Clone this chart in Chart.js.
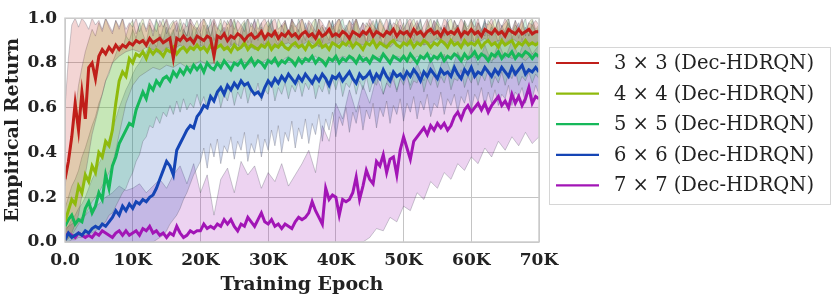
<!DOCTYPE html>
<html>
<head>
<meta charset="utf-8">
<script src="https://cdn.jsdelivr.net/npm/chart.js@4.4.1/dist/chart.umd.min.js"></script>
<style>
  html, body { margin: 0; padding: 0; background: #fff; }
  #wrap { width: 831px; height: 298px; }
</style>
</head>
<body>
<div id="wrap"><canvas id="myChart" width="831" height="298"></canvas></div>
<script>
// every array covers epochs 0..70K evenly (500 or 1000 epochs apart)
var maxEpoch = 70000;

var names = ['3 × 3 (Dec-HDRQN)', '4 × 4 (Dec-HDRQN)', '5 × 5 (Dec-HDRQN)', '6 × 6 (Dec-HDRQN)', '7 × 7 (Dec-HDRQN)'];
var colors = ['#c01f1a', '#8fba0c', '#16b85a', '#1545b5', '#a215b6'];

var mean3 = [
  0.28, 0.36, 0.47, 0.62, 0.50, 0.67, 0.55, 0.78, 0.80, 0.73,
  0.83, 0.86, 0.84, 0.87, 0.85, 0.88, 0.86, 0.88, 0.87, 0.89,
  0.88, 0.90, 0.89, 0.90, 0.88, 0.91, 0.89, 0.90, 0.91, 0.89,
  0.90, 0.91, 0.82, 0.91, 0.90, 0.92, 0.90, 0.91, 0.89, 0.92,
  0.91, 0.90, 0.92, 0.91, 0.83, 0.92, 0.91, 0.93, 0.90, 0.92,
  0.91, 0.93, 0.92, 0.90, 0.92, 0.93, 0.91, 0.92, 0.94, 0.91,
  0.93, 0.92, 0.94, 0.91, 0.93, 0.92, 0.94, 0.92, 0.93, 0.91,
  0.93, 0.94, 0.92, 0.93, 0.91, 0.94, 0.92, 0.93, 0.95, 0.92,
  0.93, 0.92, 0.94, 0.93, 0.91, 0.94, 0.93, 0.92, 0.94, 0.93,
  0.95, 0.92, 0.94, 0.93, 0.92, 0.94, 0.93, 0.95, 0.92, 0.94,
  0.93, 0.94, 0.92, 0.95, 0.93, 0.94, 0.92, 0.94, 0.95, 0.93,
  0.94, 0.92, 0.95, 0.93, 0.94, 0.93, 0.95, 0.92, 0.94, 0.93,
  0.95, 0.93, 0.94, 0.92, 0.95, 0.94, 0.93, 0.95, 0.93, 0.94,
  0.92, 0.95, 0.94, 0.93, 0.95, 0.93, 0.94, 0.95, 0.93, 0.94,
  0.94
];
var mean4 = [
  0.09, 0.14, 0.19, 0.17, 0.25, 0.22, 0.30, 0.27, 0.34, 0.31,
  0.40, 0.38, 0.45, 0.43, 0.50, 0.62, 0.72, 0.76, 0.74, 0.82,
  0.80, 0.84, 0.83, 0.85, 0.82, 0.86, 0.84, 0.86, 0.85, 0.83,
  0.86, 0.85, 0.87, 0.84, 0.86, 0.87, 0.85, 0.87, 0.86, 0.88,
  0.86, 0.87, 0.85, 0.88, 0.86, 0.87, 0.88, 0.86, 0.87, 0.85,
  0.88, 0.86, 0.87, 0.89, 0.86, 0.88, 0.87, 0.86, 0.88, 0.87,
  0.89, 0.86, 0.88, 0.87, 0.89, 0.87, 0.86, 0.88, 0.89, 0.87,
  0.88, 0.86, 0.89, 0.87, 0.88, 0.90, 0.87, 0.88, 0.86, 0.89,
  0.88, 0.87, 0.89, 0.88, 0.90, 0.87, 0.89, 0.88, 0.86, 0.89,
  0.88, 0.90, 0.87, 0.89, 0.88, 0.87, 0.89, 0.90, 0.88, 0.87,
  0.89, 0.88, 0.90, 0.87, 0.89, 0.88, 0.90, 0.89, 0.87, 0.89,
  0.88, 0.90, 0.89, 0.87, 0.90, 0.88, 0.89, 0.87, 0.90, 0.88,
  0.89, 0.88, 0.90, 0.87, 0.89, 0.90, 0.88, 0.89, 0.87, 0.90,
  0.88, 0.89, 0.90, 0.87, 0.89, 0.88, 0.90, 0.88, 0.89, 0.88,
  0.89
];
var mean5 = [
  0.07, 0.10, 0.12, 0.08, 0.10, 0.09, 0.15, 0.18, 0.13, 0.16,
  0.22, 0.19, 0.30, 0.24, 0.34, 0.38, 0.44, 0.47, 0.50, 0.53,
  0.52, 0.59, 0.63, 0.67, 0.64, 0.70, 0.68, 0.72, 0.70, 0.73,
  0.74, 0.72, 0.76, 0.74, 0.77, 0.75, 0.78, 0.76, 0.79, 0.77,
  0.79, 0.76, 0.80, 0.78, 0.77, 0.80, 0.78, 0.81, 0.79, 0.77,
  0.80, 0.79, 0.81, 0.78, 0.80, 0.82, 0.79, 0.81, 0.80, 0.78,
  0.81, 0.80, 0.82, 0.79, 0.81, 0.80, 0.82, 0.81, 0.79, 0.82,
  0.80, 0.82, 0.81, 0.83, 0.80, 0.82, 0.81, 0.79, 0.82, 0.81,
  0.83, 0.80, 0.82, 0.81, 0.83, 0.82, 0.80, 0.83, 0.81, 0.82,
  0.80, 0.83, 0.82, 0.81, 0.84, 0.82, 0.80, 0.83, 0.82, 0.81,
  0.83, 0.81, 0.84, 0.82, 0.80, 0.83, 0.82, 0.84, 0.81, 0.83,
  0.82, 0.84, 0.81, 0.83, 0.82, 0.84, 0.83, 0.81, 0.84, 0.82,
  0.83, 0.85, 0.82, 0.84, 0.83, 0.81, 0.84, 0.83, 0.85, 0.82,
  0.84, 0.83, 0.85, 0.82, 0.84, 0.83, 0.85, 0.84, 0.82, 0.84,
  0.83
];
var mean6 = [
  0.01, 0.04, 0.02, 0.03, 0.04, 0.03, 0.05, 0.04, 0.06, 0.07,
  0.06, 0.08, 0.07, 0.09, 0.11, 0.14, 0.12, 0.16, 0.14, 0.17,
  0.15, 0.18, 0.17, 0.19, 0.18, 0.20, 0.21, 0.24, 0.28, 0.32,
  0.36, 0.34, 0.30, 0.41, 0.44, 0.47, 0.50, 0.52, 0.51, 0.56,
  0.58, 0.61, 0.60, 0.65, 0.63, 0.67, 0.69, 0.66, 0.70, 0.68,
  0.71, 0.69, 0.72, 0.70, 0.71, 0.68, 0.66, 0.67, 0.65, 0.69,
  0.72, 0.70, 0.73, 0.71, 0.74, 0.72, 0.75, 0.73, 0.71, 0.74,
  0.72, 0.75, 0.73, 0.71, 0.74, 0.72, 0.75, 0.73, 0.70, 0.74,
  0.73, 0.75, 0.72, 0.74, 0.76, 0.73, 0.71, 0.75, 0.73, 0.74,
  0.76, 0.72, 0.75, 0.73, 0.77, 0.74, 0.72, 0.76, 0.74, 0.75,
  0.73, 0.76, 0.74, 0.77, 0.75, 0.72, 0.76, 0.74, 0.77, 0.75,
  0.73, 0.77, 0.75, 0.76, 0.74, 0.78, 0.75, 0.73, 0.77, 0.75,
  0.78, 0.74, 0.76, 0.75, 0.78, 0.76, 0.74, 0.77, 0.75, 0.78,
  0.76, 0.74, 0.78, 0.75, 0.77, 0.79, 0.75, 0.77, 0.76, 0.78,
  0.76
];
var mean7 = [
  0.02, 0.04, 0.03, 0.02, 0.04, 0.03, 0.02, 0.03, 0.02, 0.04,
  0.03, 0.05, 0.04, 0.03, 0.02, 0.04, 0.05, 0.03, 0.05, 0.03,
  0.04, 0.05, 0.03, 0.06, 0.05, 0.07, 0.04, 0.05, 0.03, 0.04,
  0.02, 0.04, 0.03, 0.07, 0.04, 0.02, 0.03, 0.05, 0.04, 0.05,
  0.05, 0.08, 0.06, 0.07, 0.06, 0.08, 0.07, 0.10, 0.08, 0.10,
  0.07, 0.05, 0.08, 0.07, 0.11, 0.09, 0.07, 0.10, 0.13, 0.09,
  0.08, 0.10, 0.07, 0.08, 0.06, 0.08, 0.07, 0.06, 0.09, 0.11,
  0.10, 0.11, 0.13, 0.18, 0.14, 0.11, 0.08, 0.24, 0.19, 0.21,
  0.20, 0.12, 0.19, 0.18, 0.19, 0.22, 0.29, 0.19, 0.25, 0.32,
  0.28, 0.26, 0.36, 0.34, 0.39, 0.31, 0.37, 0.38, 0.30, 0.41,
  0.47, 0.42, 0.37, 0.45, 0.47, 0.49, 0.51, 0.48, 0.52, 0.50,
  0.53, 0.51, 0.53, 0.50, 0.52, 0.56, 0.58, 0.55, 0.59, 0.61,
  0.58, 0.60, 0.62, 0.59, 0.62, 0.58, 0.61, 0.63, 0.65, 0.61,
  0.63, 0.60, 0.66, 0.62, 0.65, 0.61, 0.64, 0.69, 0.62, 0.65,
  0.64
];

var low3 = [
  0.00, 0.04, 0.12, 0.30, 0.48, 0.60, 0.72, 0.80, 0.83, 0.85,
  0.86, 0.85, 0.87, 0.86, 0.84, 0.87, 0.86, 0.88, 0.86, 0.87,
  0.88, 0.86, 0.87, 0.88, 0.86, 0.89, 0.87, 0.88, 0.86, 0.88,
  0.89, 0.87, 0.88, 0.89, 0.87, 0.88, 0.90, 0.88, 0.87, 0.89,
  0.88, 0.90, 0.87, 0.89, 0.88, 0.90, 0.88, 0.89, 0.87, 0.90,
  0.89, 0.88, 0.90, 0.88, 0.89, 0.91, 0.88, 0.90, 0.89, 0.88,
  0.90, 0.89, 0.91, 0.88, 0.90, 0.89, 0.91, 0.89, 0.90, 0.88,
  0.90
];
var high3 = [
  0.60, 0.82, 0.97, 1.00, 0.96, 1.00, 0.98, 0.95, 1.00, 0.97,
  0.99, 0.95, 1.00, 0.97, 0.94, 0.99, 0.96, 1.00, 0.95, 0.98,
  0.96, 1.00, 0.94, 0.98, 0.95, 1.00, 0.97, 0.94, 0.99, 0.96,
  1.00, 0.95, 0.98, 0.99, 0.94, 0.98, 0.96, 1.00, 0.97, 0.95,
  0.98, 1.00, 0.95, 0.97, 1.00, 0.96, 0.94, 0.99, 0.97, 1.00,
  0.95, 0.99, 0.97, 0.94, 1.00, 0.96, 0.99, 0.95, 0.98, 1.00,
  0.96, 0.98, 1.00, 0.95, 0.97, 0.99, 0.94, 1.00, 0.96, 0.98,
  1.00, 0.95, 0.99, 0.97, 0.94, 1.00, 0.98, 0.95, 0.99, 0.96,
  0.98, 1.00, 0.96, 0.94, 0.99, 0.97, 1.00, 0.95, 0.98, 0.96,
  1.00, 0.97, 0.95, 0.99, 0.96, 1.00, 0.94, 0.98, 0.97, 1.00,
  0.95, 0.98, 1.00, 0.96, 0.99, 0.94, 0.97, 1.00, 0.95, 0.99,
  0.97, 0.95, 1.00, 0.98, 0.94, 0.99, 0.96, 1.00, 0.97, 0.95,
  0.99, 0.96, 1.00, 0.94, 0.98, 0.97, 1.00, 0.95, 0.99, 0.96,
  1.00, 0.97, 0.95, 0.99, 0.96, 1.00, 0.94, 0.98, 0.97, 0.99,
  0.97
];
var low4 = [
  0.00, 0.03, 0.08, 0.12, 0.18, 0.22, 0.28, 0.34, 0.48, 0.62,
  0.70, 0.74, 0.76, 0.78, 0.77, 0.79, 0.78, 0.80, 0.78, 0.79,
  0.81, 0.79, 0.80, 0.78, 0.81, 0.80, 0.82, 0.79, 0.81, 0.80,
  0.82, 0.80, 0.81, 0.83, 0.80, 0.82, 0.81, 0.83, 0.80, 0.82,
  0.81, 0.83, 0.82, 0.80, 0.83, 0.81, 0.82, 0.84, 0.81, 0.83,
  0.82, 0.80, 0.83, 0.82, 0.84, 0.81, 0.83, 0.82, 0.84, 0.81,
  0.83, 0.82, 0.84, 0.81, 0.83, 0.84, 0.82, 0.83, 0.81, 0.84,
  0.82
];
var high4 = [
  0.25, 0.35, 0.45, 0.58, 0.70, 0.78, 0.85, 0.90, 0.95, 0.92,
  0.98, 0.94, 1.00, 0.96, 0.93, 0.99, 0.95, 1.00, 0.92, 0.97,
  0.99, 0.93, 0.97, 1.00, 0.94, 0.98, 0.92, 0.99, 0.96, 1.00,
  0.93, 0.97, 0.99, 0.94, 1.00, 0.95, 0.92, 0.98, 0.96, 0.99,
  0.94, 1.00, 0.97, 0.92, 0.98, 0.95, 1.00, 0.93, 0.99, 0.96,
  1.00, 0.94, 0.97, 0.99, 0.92, 0.98, 0.95, 1.00, 0.93, 0.97,
  0.99, 0.95, 0.92, 1.00, 0.96, 0.98, 0.93, 0.99, 0.97, 0.94,
  1.00, 0.96, 0.93, 0.98, 1.00, 0.94, 0.97, 0.92, 0.99, 0.95,
  0.97, 1.00, 0.93, 0.96, 0.99, 0.94, 1.00, 0.95, 0.92, 0.98,
  0.96, 0.99, 0.94, 1.00, 0.97, 0.93, 0.98, 0.95, 1.00, 0.94,
  0.98, 0.92, 0.97, 1.00, 0.95, 0.99, 0.93, 0.96, 1.00, 0.94,
  0.99, 0.96, 0.92, 0.98, 1.00, 0.95, 0.97, 0.93, 0.99, 0.96,
  1.00, 0.94, 0.98, 0.95, 0.92, 0.99, 0.97, 1.00, 0.94, 0.96,
  0.98, 1.00, 0.93, 0.97, 0.95, 0.99, 0.92, 0.98, 1.00, 0.95,
  0.97
];
var low5 = [
  0.00, 0.00, 0.01, 0.01, 0.02, 0.02, 0.03, 0.04, 0.04, 0.05,
  0.06, 0.08, 0.09, 0.12, 0.13, 0.16, 0.19, 0.22, 0.24, 0.28,
  0.31, 0.36, 0.39, 0.45, 0.47, 0.52, 0.51, 0.56, 0.53, 0.58,
  0.56, 0.61, 0.57, 0.63, 0.58, 0.64, 0.59, 0.62, 0.60, 0.66,
  0.61, 0.65, 0.59, 0.66, 0.62, 0.68, 0.60, 0.66, 0.63, 0.69,
  0.61, 0.67, 0.64, 0.70, 0.62, 0.68, 0.65, 0.71, 0.63, 0.68,
  0.66, 0.72, 0.63, 0.69, 0.66, 0.71, 0.64, 0.70, 0.67, 0.72,
  0.65, 0.71, 0.68, 0.73, 0.64, 0.70, 0.67, 0.72, 0.66, 0.73,
  0.68, 0.74, 0.65, 0.71, 0.69, 0.73, 0.66, 0.72, 0.68, 0.74,
  0.67, 0.72, 0.70, 0.75, 0.66, 0.71, 0.69, 0.74, 0.67, 0.73,
  0.70, 0.75, 0.68, 0.72, 0.71, 0.76, 0.67, 0.73, 0.70, 0.75,
  0.69, 0.74, 0.71, 0.76, 0.68, 0.73, 0.72, 0.77, 0.69, 0.74,
  0.71, 0.76, 0.70, 0.75, 0.72, 0.77, 0.69, 0.74, 0.71, 0.76,
  0.70, 0.75, 0.73, 0.77, 0.70, 0.74, 0.72, 0.76, 0.71, 0.75,
  0.73
];
var high5 = [
  0.15, 0.20, 0.25, 0.28, 0.32, 0.38, 0.42, 0.47, 0.52, 0.56,
  0.62, 0.66, 0.72, 0.75, 0.80, 0.84, 0.88, 0.86, 0.92, 0.90,
  0.95, 0.91, 0.98, 0.93, 0.89, 0.97, 0.94, 1.00, 0.90, 0.96,
  0.99, 0.92, 0.95, 0.88, 0.98, 0.93, 1.00, 0.91, 0.96, 0.94,
  0.89, 0.97, 0.93, 1.00, 0.90, 0.95, 0.98, 0.92, 0.96, 0.88,
  0.99, 0.94, 0.91, 0.97, 1.00, 0.89, 0.95, 0.93, 0.98, 0.90,
  0.96, 1.00, 0.92, 0.94, 0.88, 0.99, 0.93, 0.97, 0.91, 1.00,
  0.94, 0.90, 0.98, 0.95, 0.92, 1.00, 0.89, 0.96, 0.93, 0.99,
  0.91, 0.97, 1.00, 0.93, 0.90, 0.96, 0.99, 0.92, 0.95, 0.88,
  0.98, 0.94, 1.00, 0.91, 0.96, 0.93, 0.99, 0.89, 0.97, 0.95,
  0.92, 1.00, 0.94, 0.90, 0.98, 0.95, 0.91, 0.99, 0.93, 0.96,
  1.00, 0.89, 0.97, 0.94, 0.92, 0.99, 0.95, 0.90, 0.98, 0.93,
  0.96, 1.00, 0.91, 0.95, 0.99, 0.92, 0.97, 0.94, 1.00, 0.90,
  0.95, 0.98, 0.93, 0.99, 0.91, 0.96, 1.00, 0.92, 0.97, 0.94,
  0.96
];
var low6 = [
  0.00, 0.00, 0.00, 0.00, 0.00, 0.00, 0.00, 0.00, 0.00, 0.00,
  0.00, 0.00, 0.00, 0.00, 0.00, 0.00, 0.00, 0.00, 0.00, 0.00,
  0.00, 0.00, 0.00, 0.00, 0.00, 0.00, 0.00, 0.01, 0.02, 0.03,
  0.05, 0.08, 0.10, 0.12, 0.15, 0.19, 0.22, 0.26, 0.30, 0.33,
  0.36, 0.42, 0.33, 0.44, 0.38, 0.46, 0.35, 0.43, 0.40, 0.47,
  0.37, 0.45, 0.41, 0.49, 0.36, 0.44, 0.40, 0.48, 0.38, 0.46,
  0.41, 0.50, 0.43, 0.52, 0.40, 0.49, 0.45, 0.54, 0.42, 0.51,
  0.46, 0.55, 0.44, 0.53, 0.48, 0.57, 0.45, 0.55, 0.50, 0.58,
  0.47, 0.56, 0.52, 0.60, 0.49, 0.58, 0.53, 0.61, 0.50, 0.59,
  0.55, 0.62, 0.51, 0.60, 0.56, 0.63, 0.53, 0.61, 0.57, 0.64,
  0.54, 0.62, 0.58, 0.65, 0.55, 0.63, 0.59, 0.66, 0.56, 0.62,
  0.60, 0.67, 0.57, 0.64, 0.61, 0.66, 0.58, 0.65, 0.62, 0.68,
  0.59, 0.66, 0.63, 0.69, 0.60, 0.67, 0.62, 0.68, 0.61, 0.66,
  0.64, 0.70, 0.61, 0.67, 0.65, 0.69, 0.62, 0.68, 0.64, 0.70,
  0.66
];
var high6 = [
  0.05, 0.07, 0.10, 0.12, 0.15, 0.17, 0.20, 0.24, 0.28, 0.31,
  0.35, 0.38, 0.42, 0.46, 0.50, 0.55, 0.60, 0.64, 0.68, 0.71,
  0.75, 0.78, 0.80, 0.83, 0.85, 0.88, 0.90, 0.87, 0.93, 0.90,
  0.96, 0.91, 0.94, 0.98, 0.89, 0.95, 0.92, 1.00, 0.90, 0.96,
  0.93, 0.87, 0.97, 0.91, 0.99, 0.88, 0.94, 0.96, 0.90, 1.00,
  0.92, 0.86, 0.95, 0.98, 0.89, 0.93, 1.00, 0.90, 0.96, 0.87,
  0.94, 0.99, 0.91, 0.88, 0.97, 0.93, 0.90, 1.00, 0.92, 0.95,
  0.89, 0.98, 0.94, 0.91, 1.00, 0.87, 0.96, 0.93, 0.90, 0.99,
  0.92, 0.95, 0.88, 0.97, 0.93, 1.00, 0.90, 0.94, 0.98, 0.89,
  0.96, 0.91, 0.99, 0.93, 0.87, 0.95, 1.00, 0.92, 0.90, 0.97,
  0.94, 0.89, 0.98, 0.92, 0.96, 1.00, 0.88, 0.95, 0.93, 0.99,
  0.90, 0.96, 0.93, 1.00, 0.89, 0.94, 0.97, 0.91, 0.99, 0.92,
  0.95, 0.88, 0.98, 0.93, 1.00, 0.90, 0.96, 0.94, 0.89, 0.97,
  0.93, 1.00, 0.91, 0.95, 0.98, 0.90, 0.96, 0.92, 0.99, 0.94,
  0.95
];
var low7 = [
  0.00, 0.00, 0.00, 0.00, 0.00, 0.00, 0.00, 0.00, 0.00, 0.00,
  0.00, 0.00, 0.00, 0.00, 0.00, 0.00, 0.00, 0.00, 0.00, 0.00,
  0.00, 0.00, 0.00, 0.00, 0.00, 0.00, 0.00, 0.00, 0.00, 0.00,
  0.00, 0.00, 0.00, 0.00, 0.00, 0.00, 0.00, 0.00, 0.00, 0.00,
  0.00, 0.00, 0.00, 0.00, 0.00, 0.02, 0.06, 0.05, 0.11, 0.09,
  0.16, 0.14, 0.22, 0.19, 0.27, 0.24, 0.31, 0.28, 0.35, 0.32,
  0.38, 0.35, 0.42, 0.38, 0.45, 0.41, 0.47, 0.43, 0.49, 0.44,
  0.47
];
var high7 = [
  0.06, 0.08, 0.10, 0.12, 0.15, 0.17, 0.20, 0.22, 0.25, 0.23,
  0.24, 0.26, 0.22, 0.25, 0.28, 0.24, 0.30, 0.34, 0.26, 0.35,
  0.22, 0.30, 0.12, 0.28, 0.33, 0.22, 0.36, 0.30, 0.34, 0.24,
  0.31, 0.27, 0.35, 0.25, 0.30, 0.35, 0.41, 0.31, 0.52, 0.45,
  0.62, 0.55, 0.68, 0.58, 0.70, 0.62, 0.74, 0.66, 0.76, 0.68,
  0.78, 0.70, 0.80, 0.72, 0.82, 0.74, 0.84, 0.76, 0.85, 0.78,
  0.87, 0.79, 0.88, 0.80, 0.89, 0.82, 0.90, 0.83, 0.91, 0.84,
  0.88
];

var means = [mean3, mean4, mean5, mean6, mean7];
var lows = [low3, low4, low5, low6, low7];
var highs = [high3, high4, high5, high6, high7];

function toXY(arr) {
  var step = maxEpoch / (arr.length - 1);
  return arr.map(function (v, i) { return { x: i * step, y: v }; });
}
function alpha(hex, a) {
  var r = parseInt(hex.substr(1, 2), 16), g = parseInt(hex.substr(3, 2), 16), b = parseInt(hex.substr(5, 2), 16);
  return 'rgba(' + r + ',' + g + ',' + b + ',' + a + ')';
}

var edge = 'rgba(80,80,95,0.42)';
var datasets = [];
for (var s = 0; s < names.length; s++) {
  datasets.push({
    label: 'low', data: toXY(lows[s]),
    borderColor: edge, borderWidth: 0.7,
    pointRadius: 0, fill: false, order: 1
  });
  datasets.push({
    label: 'high', data: toXY(highs[s]),
    borderColor: edge, borderWidth: 0.7,
    backgroundColor: alpha(colors[s], 0.19),
    pointRadius: 0, fill: '-1', order: 1
  });
}
for (var s = 0; s < names.length; s++) {
  datasets.push({
    label: names[s], data: toXY(means[s]),
    borderColor: colors[s], borderWidth: 3,
    pointRadius: 0, fill: false, order: 0
  });
}

var serif = '"DejaVu Serif", "Liberation Serif", serif';

var frameAndLegend = {
  id: 'frameAndLegend',
  afterDraw: function (chart) {
    var c = chart.ctx, a = chart.chartArea;
    c.save();
    c.strokeStyle = '#cccccc';
    c.lineWidth = 1.5;
    c.strokeRect(a.left, a.top, a.right - a.left, a.bottom - a.top);

    // legend box
    c.fillStyle = 'rgba(255,255,255,0.9)';
    c.fillRect(549, 47, 281, 158);
    c.strokeStyle = '#d6d6d6';
    c.lineWidth = 1;
    c.strokeRect(549.5, 47.5, 281, 157);
    c.font = '19.5px ' + serif;
    c.textBaseline = 'middle';
    c.fillStyle = '#222';
    for (var i = 0; i < names.length; i++) {
      var y = 63 + i * 30.6;
      c.strokeStyle = colors[i];
      c.lineWidth = 2.2;
      c.beginPath();
      c.moveTo(556, y);
      c.lineTo(599, y);
      c.stroke();
      c.fillText(names[i], 614, y + 1);
    }
    c.restore();
  }
};

var ctx = document.getElementById('myChart').getContext('2d');
var myChart = new Chart(ctx, {
  type: 'line',
  data: { datasets: datasets },
  options: {
    responsive: false,
    animation: false,
    layout: { padding: { left: 0, right: 292, top: 8, bottom: 0 } },
    plugins: {
      legend: { display: false },
      tooltip: { enabled: false }
    },
    scales: {
      x: {
        type: 'linear', min: 0, max: 70000,
        afterFit: function (scale) { scale.height = 56; },
        grid: { color: '#c4c4c4', lineWidth: 1, drawTicks: false },
        border: { display: false },
        ticks: {
          stepSize: 10000, padding: 8, color: '#222',
          font: { family: serif, size: 17, weight: 'bold' },
          callback: function (v) { return v === 0 ? '0.0' : (v / 1000) + 'K'; }
        },
        title: {
          display: true, text: 'Training Epoch', color: '#222',
          padding: { top: 0, bottom: 2 },
          font: { family: serif, size: 19, weight: 'bold' }
        }
      },
      y: {
        min: 0, max: 1,
        afterFit: function (scale) { scale.width = 65; },
        grid: { color: '#c4c4c4', lineWidth: 1, drawTicks: false },
        border: { display: false },
        ticks: {
          stepSize: 0.2, padding: 8, color: '#222',
          font: { family: serif, size: 17, weight: 'bold' },
          callback: function (v) { return v.toFixed(1); }
        },
        title: {
          display: true, text: 'Empirical Return', color: '#222',
          padding: { top: 2, bottom: 0 },
          font: { family: serif, size: 19, weight: 'bold' }
        }
      }
    }
  },
  plugins: [frameAndLegend]
});
</script>
</body>
</html>
